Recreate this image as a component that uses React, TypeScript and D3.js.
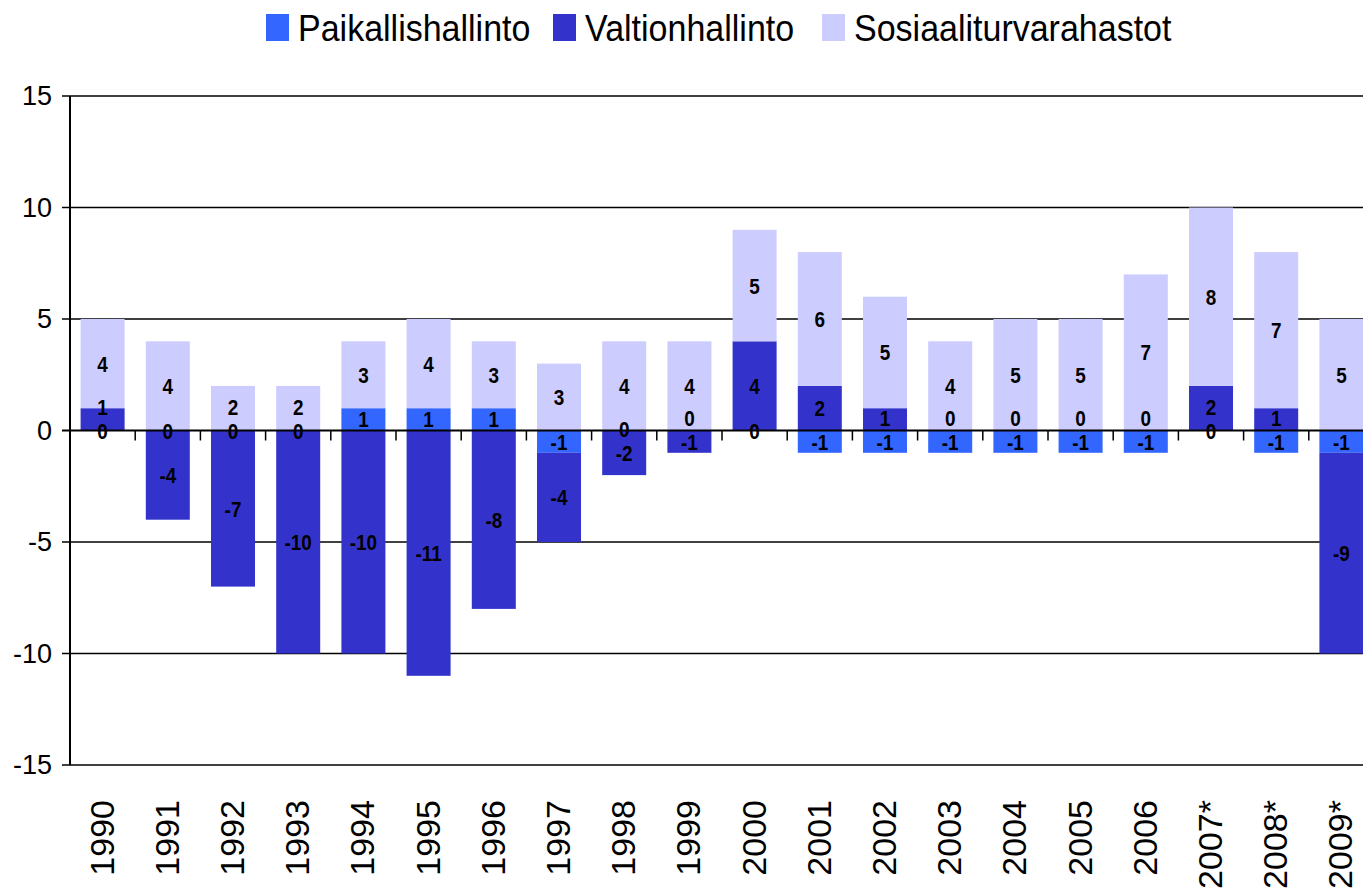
import React, { useEffect, useRef } from "react";
import * as d3 from "d3";

const years = ["1990", "1991", "1992", "1993", "1994", "1995", "1996", "1997", "1998", "1999",
  "2000", "2001", "2002", "2003", "2004", "2005", "2006", "2007*", "2008*", "2009*"];

const seriesNames = ["Paikallishallinto", "Valtionhallinto", "Sosiaaliturvarahastot"];
const seriesColors = ["#3366FF", "#3333CC", "#CCCCFF"];

const paikallis = [0, 0, 0, 0, 1, 1, 1, -1, 0, 0, 0, -1, -1, -1, -1, -1, -1, 0, -1, -1];
const valtio = [1, -4, -7, -10, -10, -11, -8, -4, -2, -1, 4, 2, 1, 0, 0, 0, 0, 2, 1, -9];
const sosiaali = [4, 4, 2, 2, 3, 4, 3, 3, 4, 4, 5, 6, 5, 4, 5, 5, 7, 8, 7, 5];

const yTicks = [15, 10, 5, 0, -5, -10, -15];

const FONT = "Arial, 'Liberation Sans', sans-serif";

const App = () => {
  const ref = useRef<SVGSVGElement>(null);

  useEffect(() => {
    const width = 1363, height = 893;
    const svg = d3.select(ref.current);
    svg.selectAll("*").remove();
    svg.attr("width", width).attr("height", height);

    const rows = years.map((y, i) => ({
      year: y,
      [seriesNames[0]]: paikallis[i],
      [seriesNames[1]]: valtio[i],
      [seriesNames[2]]: sosiaali[i],
    }));

    const x = d3.scaleBand().domain(years).range([70, 1374]).paddingInner(0.325).paddingOuter(0.1625);
    const y = d3.scaleLinear().domain([-15, 15]).range([765, 96]);
    const color = d3.scaleOrdinal<string>().domain(seriesNames).range(seriesColors);

    const stacked = d3.stack<any>().keys(seriesNames).offset(d3.stackOffsetDiverging)(rows);

    // gridlines (behind bars)
    svg.append("g")
      .selectAll("line")
      .data(yTicks.filter(t => t !== 0))
      .enter()
      .append("line")
      .attr("x1", 62).attr("x2", width)
      .attr("y1", d => y(d)).attr("y2", d => y(d))
      .attr("stroke", "#000").attr("stroke-width", 1.5);

    // bars
    const layers = svg.append("g")
      .selectAll("g")
      .data(stacked)
      .enter()
      .append("g")
      .attr("fill", d => color(d.key));

    layers.selectAll("rect")
      .data(d => d)
      .enter()
      .append("rect")
      .attr("x", d => x(d.data.year)!)
      .attr("width", x.bandwidth())
      .attr("y", d => y(Math.max(d[0], d[1])))
      .attr("height", d => Math.abs(y(d[0]) - y(d[1])));

    // y axis + zero line
    svg.append("line")
      .attr("x1", 70).attr("x2", 70).attr("y1", y(15)).attr("y2", y(-15))
      .attr("stroke", "#000").attr("stroke-width", 2);
    svg.append("line")
      .attr("x1", 62).attr("x2", width).attr("y1", y(0)).attr("y2", y(0))
      .attr("stroke", "#000").attr("stroke-width", 2);

    // category ticks on zero line
    svg.append("g")
      .selectAll("line")
      .data(years)
      .enter()
      .append("line")
      .attr("x1", d => x(d)! + x.bandwidth() + x.step() * x.paddingInner() / 2)
      .attr("x2", d => x(d)! + x.bandwidth() + x.step() * x.paddingInner() / 2)
      .attr("y1", y(0)).attr("y2", y(0) + 10)
      .attr("stroke", "#000").attr("stroke-width", 1.5);

    // y tick labels
    svg.append("g")
      .selectAll("text")
      .data(yTicks)
      .enter()
      .append("text")
      .attr("x", 52).attr("y", d => y(d))
      .attr("text-anchor", "end")
      .attr("dominant-baseline", "central")
      .style("font-family", FONT).style("font-size", "27px")
      .text(d => d);

    // x labels
    svg.append("g")
      .selectAll("text")
      .data(years)
      .enter()
      .append("text")
      .attr("transform", d => `translate(${x(d)! + x.bandwidth() / 2 - 1},800) rotate(-90)`)
      .attr("text-anchor", "end")
      .attr("dominant-baseline", "central")
      .style("font-family", FONT).style("font-size", "34px")
      .text(d => d);

    // data labels: segment centres, nudged upward so labels in one bar don't collide
    const gap = 24;
    const labels: { year: string; value: number; ly: number }[] = [];
    years.forEach((yr, j) => {
      const items = stacked.map(s => ({
        year: yr,
        value: s[j].data[s.key] as number,
        ly: y((s[j][0] + s[j][1]) / 2),
      })).sort((a, b) => b.ly - a.ly);
      for (let k = 1; k < items.length; k++) {
        if (items[k - 1].ly - items[k].ly < gap) items[k].ly = items[k - 1].ly - gap;
      }
      labels.push(...items);
    });

    svg.append("g")
      .selectAll("text")
      .data(labels)
      .enter()
      .append("text")
      .attr("transform", d => `translate(${x(d.year)! + x.bandwidth() / 2},${d.ly}) scale(0.86,1)`)
      .attr("text-anchor", "middle")
      .attr("dominant-baseline", "central")
      .style("font-family", FONT).style("font-size", "22px").style("font-weight", "bold")
      .text(d => d.value);

    // legend
    const legendX = [266, 553, 822];
    const legend = svg.append("g")
      .selectAll("g")
      .data(seriesNames)
      .enter()
      .append("g")
      .attr("transform", (d, i) => `translate(${legendX[i]},14)`);
    legend.append("rect")
      .attr("width", 23).attr("height", 27)
      .attr("fill", d => color(d));
    legend.append("text")
      .attr("transform", "translate(32,14) scale(1,1.1)")
      .attr("dominant-baseline", "central")
      .style("font-family", FONT).style("font-size", "34px")
      .text(d => d);
  }, []);

  return (
    <svg ref={ref} style={{ position: "absolute", left: 0, top: 0, display: "block" }}></svg>
  );
};

export default App;
